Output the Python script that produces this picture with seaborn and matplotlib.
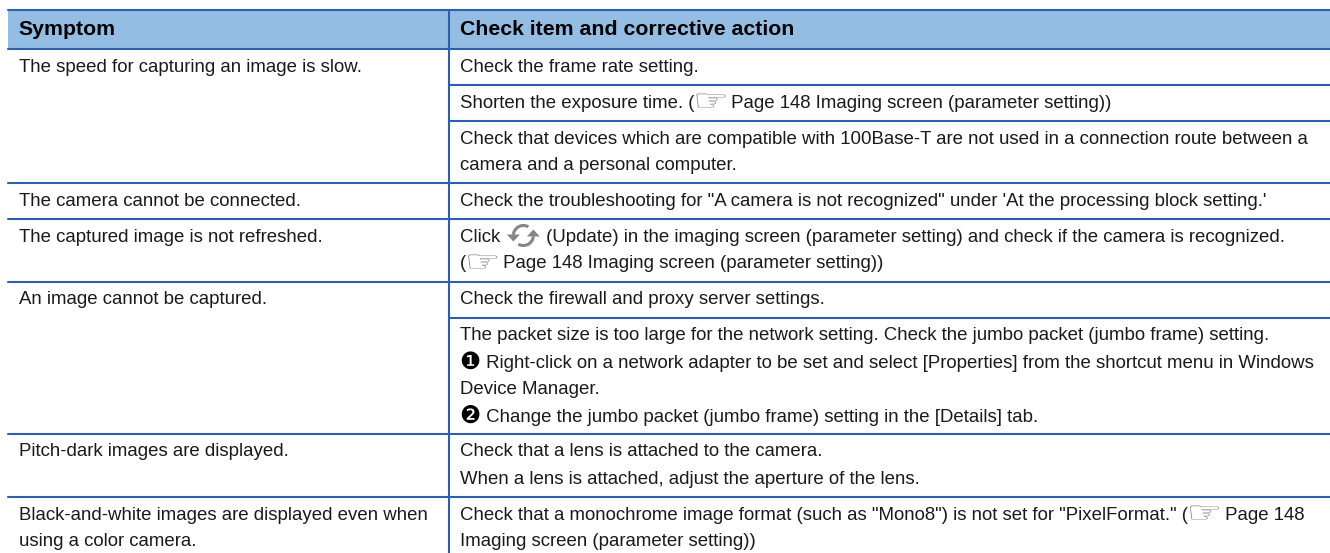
import matplotlib
matplotlib.use('Agg')
import matplotlib.pyplot as plt
import numpy as np
import seaborn as sns
from matplotlib.font_manager import FontProperties
from matplotlib.patches import PathPatch
from matplotlib.textpath import TextPath
from matplotlib.transforms import Affine2D

W, H = 1330, 553
RULE = '#2e5fae'
HEADER_BG = '#93bde3'
TEXT = '#1a1a1a'
GREY = '#858585'

# Noi dung bang
headers = ['Symptom', 'Check item and corrective action']
symptoms = [
    'The speed for capturing an image is slow.',
    'The camera cannot be connected.',
    'The captured image is not refreshed.',
    'An image cannot be captured.',
    'Pitch-dark images are displayed.',
    'Black-and-white images are displayed even when\nusing a color camera.',
]
actions = [
    ['Check the frame rate setting.',
     'Shorten the exposure time. (☞ Page 148 Imaging screen (parameter setting))',
     'Check that devices which are compatible with 100Base-T are not used in a connection route between a\ncamera and a personal computer.'],
    ['Check the troubleshooting for "A camera is not recognized" under \'At the processing block setting.\''],
    ['Click ⟳ (Update) in the imaging screen (parameter setting) and check if the camera is recognized.\n(☞ Page 148 Imaging screen (parameter setting))'],
    ['Check the firewall and proxy server settings.',
     'The packet size is too large for the network setting. Check the jumbo packet (jumbo frame) setting.\n❶ Right-click on a network adapter to be set and select [Properties] from the shortcut menu in Windows\nDevice Manager.\n❷ Change the jumbo packet (jumbo frame) setting in the [Details] tab.'],
    ['Check that a lens is attached to the camera.\nWhen a lens is attached, adjust the aperture of the lens.'],
    ['Check that a monochrome image format (such as "Mono8") is not set for "PixelFormat." (☞ Page 148\nImaging screen (parameter setting))'],
]

# Vi tri cac duong ke (pixel)
left, mid, right = 8, 449, 1330
top, head_bottom = 10, 49
row_bottoms = [183, 219, 281.5, 434, 497, 553]
sub_bottoms = [[85, 121], [], [], [318], [], []]
col_x = [19, 460]
FS = 13.45
LINE_H = 27

sns.set_theme(style='white')
plt.rcParams['font.family'] = ['Liberation Sans', 'DejaVu Sans']

fig = plt.figure(figsize=(W / 100, H / 100), dpi=100)
ax = fig.add_axes([0, 0, 1, 1])
ax.set_xlim(0, W)
ax.set_ylim(H, 0)
ax.axis('off')
renderer = fig.canvas.get_renderer()


def width(s, **kw):
    # Do chieu rong, them '|' de khong mat khoang trang o cuoi
    t1 = ax.text(0, 0, s + '|', fontsize=FS, **kw)
    t2 = ax.text(0, 0, '|', fontsize=FS, **kw)
    w = t1.get_window_extent(renderer).width - t2.get_window_extent(renderer).width
    t1.remove()
    t2.remove()
    return w


def draw_hand(x, y):
    # Glyph ban tay bi keo gian ngang cho giong icon goc
    path = TextPath((0, 0), '☞', size=20, prop=FontProperties(family='DejaVu Sans'))
    box = path.get_extents()
    tr = Affine2D().translate(-box.x0, -box.y0).scale(29 / box.width, -14 / box.height).translate(x + 2, y)
    ax.add_patch(PathPatch(path, transform=tr + ax.transData, facecolor=GREY, edgecolor='none'))


def draw_update(x, y):
    # Icon Update: hai cung tron mau xam co mui ten
    cx, cy, r = x + 18, y - 6, 10
    for a0, a1, sign in [(60, 175, 1), (240, 355, -1)]:
        th = np.radians(np.linspace(a0, a1, 30))
        ax.plot(cx + r * np.cos(th), cy - r * np.sin(th), color=GREY, lw=2.2, solid_capstyle='butt')
        ex = cx - r if sign == 1 else cx + r
        ax.fill([ex - 6.5, ex + 6.5, ex], [cy - 1 * sign, cy - 1 * sign, cy + 6 * sign], color=GREY, lw=0)


def put_line(x, y, s, **kw):
    # Ve tung doan, ky tu icon thi ve rieng
    buf = ''
    for ch in s + '\0':
        if ch in '☞⟳❶❷\0':
            if buf:
                ax.text(x, y, buf, color=TEXT, fontsize=FS, va='baseline', **kw)
                x += width(buf, **kw)
                buf = ''
            if ch == '☞':
                draw_hand(x, y)
                x += 32
            elif ch == '⟳':
                draw_update(x, y)
                x += 36
            elif ch in '❶❷':
                ax.text(x - 1, y + 1, ch, color='black', fontsize=17, va='baseline', family='DejaVu Sans')
                x += 21
        else:
            buf += ch


def put(x, y, s):
    for i, line in enumerate(s.split('\n')):
        put_line(x, y + i * LINE_H, line)


ax.fill_between([left, right], top, head_bottom, color=HEADER_BG, lw=0, zorder=0)
ax.text(18, 35, headers[0], color='black', fontsize=15.3, fontweight='bold', va='baseline')
ax.text(col_x[1], 35, headers[1], color='black', fontsize=15.3, fontweight='bold', va='baseline')

ax.plot([left, right], [top, top], color=RULE, lw=1.5)
ax.plot([left, right], [head_bottom, head_bottom], color=RULE, lw=1.5)
ax.plot([mid, mid], [top, H], color=RULE, lw=1.5)

prev = head_bottom
for sym, acts, bottom, subs in zip(symptoms, actions, row_bottoms, sub_bottoms):
    put(col_x[0], prev + 22.5, sym)
    edges = [prev] + subs + [bottom]
    for act, y0 in zip(acts, edges):
        put(col_x[1], y0 + 22.5, act)
    for y in subs:
        ax.plot([mid, right], [y, y], color=RULE, lw=1.5)
    if bottom < H:
        ax.plot([left, right], [bottom, bottom], color=RULE, lw=1.5)
    prev = bottom

fig.savefig('out.png', dpi=100)
